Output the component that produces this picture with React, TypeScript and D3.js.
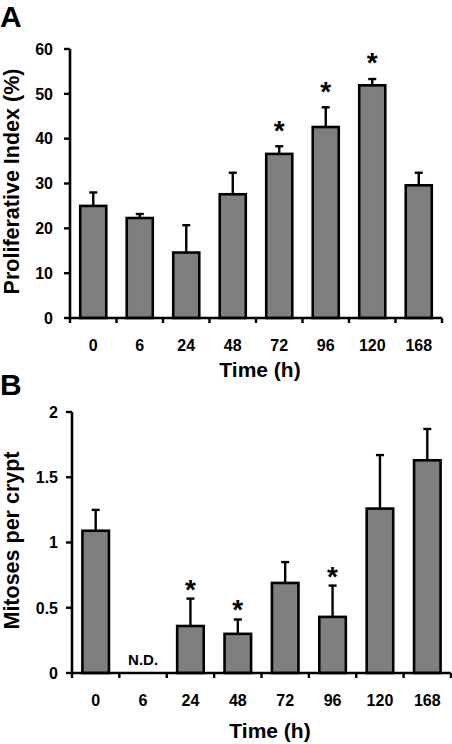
import React from 'react';
import * as d3 from 'd3';

const categories = ['0', '6', '24', '48', '72', '96', '120', '168'];
const proliferativeMean = [25.0, 22.3, 14.6, 27.6, 36.6, 42.6, 51.9, 29.6];
const proliferativeErr = [3.0, 0.9, 6.1, 4.8, 1.7, 4.4, 1.4, 2.8];
const proliferativeSig = [false, false, false, false, true, true, true, false];
const proliferativeTicks = [0, 10, 20, 30, 40, 50, 60];

const mitosesMean: (number | null)[] = [1.09, null, 0.36, 0.3, 0.69, 0.43, 1.26, 1.63];
const mitosesErr: (number | null)[] = [0.16, null, 0.21, 0.11, 0.16, 0.24, 0.41, 0.24];
const mitosesSig = [false, false, true, true, false, true, false, false];
const mitosesTicks = [0, 0.5, 1, 1.5, 2];

const FONT = "'Liberation Sans', Arial, sans-serif";
const BAR_FILL = '#7f7f7f';

type PanelProps = {
  letter: string;
  letterY: number;
  yTitle: string;
  yTitleX: number;
  xTitleX: number;
  xTitleY: number;
  x0: number;
  x1: number;
  yTop: number;
  yBottom: number;
  domainMax: number;
  ticks: number[];
  tickLabelGap: number;
  means: (number | null)[];
  errs: (number | null)[];
  sig: boolean[];
  starOffset: number;
  ndLabel?: boolean;
};

function Panel(p: PanelProps) {
  const x = d3.scaleBand<string>().domain(categories).range([p.x0, p.x1]).padding(0);
  const y = d3.scaleLinear().domain([0, p.domainMax]).range([p.yBottom, p.yTop]);
  const bw = x.bandwidth() * 0.56;
  const edges = categories.map((c) => x(c) as number).concat([p.x1]);
  const starSize = 28;
  return (
    <g fontFamily={FONT} fontWeight="bold" fill="#000">
      <text x={0} y={p.letterY} fontSize={30}>{p.letter}</text>
      <text
        transform={`translate(${p.yTitleX},${(p.yTop + p.yBottom) / 2 - 2}) rotate(-90)`}
        textAnchor="middle"
        fontSize={21.5}
      >
        {p.yTitle}
      </text>
      <text x={p.xTitleX} y={p.xTitleY} textAnchor="middle" fontSize={21}>Time (h)</text>
      {categories.map((c, i) => {
        const m = p.means[i];
        const e = p.errs[i];
        const cx = (x(c) as number) + x.bandwidth() / 2;
        if (m == null) return null;
        const capY = y(m + (e || 0));
        return (
          <g key={c}>
            {e != null && (
              <g stroke="#000" strokeWidth={2.4}>
                <line x1={cx} x2={cx} y1={y(m)} y2={capY} />
                <line x1={cx - 4} x2={cx + 4} y1={capY} y2={capY} />
              </g>
            )}
            <rect
              x={cx - bw / 2}
              y={y(m)}
              width={bw}
              height={y(0) - y(m)}
              fill={BAR_FILL}
              stroke="#000"
              strokeWidth={2.6}
            />
            {p.sig[i] && (
              <text
                x={cx}
                y={capY - p.starOffset + 0.57 * starSize}
                textAnchor="middle"
                fontSize={starSize}
              >
                *
              </text>
            )}
          </g>
        );
      })}
      {p.ndLabel && (
        <text
          x={(x('6') as number) + x.bandwidth() / 2}
          y={p.yBottom - 8}
          textAnchor="middle"
          fontSize={15}
        >
          N.D.
        </text>
      )}
      <line x1={p.x0} x2={p.x0} y1={p.yTop} y2={p.yBottom} stroke="#000" strokeWidth={2.6} />
      {p.ticks.map((t) => (
        <g key={t}>
          <line x1={p.x0 - 6} x2={p.x0} y1={y(t)} y2={y(t)} stroke="#000" strokeWidth={2.4} />
          <text x={p.x0 - p.tickLabelGap} y={y(t)} dy="0.36em" textAnchor="end" fontSize={16}>
            {String(t)}
          </text>
        </g>
      ))}
      <line x1={p.x0 - 1} x2={p.x1} y1={p.yBottom} y2={p.yBottom} stroke="#000" strokeWidth={2.6} />
      {edges.map((ex, i) => (
        <line key={i} x1={ex} x2={ex} y1={p.yBottom} y2={p.yBottom + 5} stroke="#000" strokeWidth={2.4} />
      ))}
      {categories.map((c) => (
        <text
          key={c}
          x={(x(c) as number) + x.bandwidth() / 2}
          y={p.yBottom + 33}
          textAnchor="middle"
          fontSize={16}
        >
          {c}
        </text>
      ))}
    </g>
  );
}

export default function App() {
  return (
    <svg
      width={452}
      height={744}
      style={{ position: 'absolute', left: 0, top: 0, background: '#fff' }}
    >
      <Panel
        letter="A"
        letterY={27}
        yTitle="Proliferative Index (%)"
        yTitleX={19}
        xTitleX={260}
        xTitleY={377}
        x0={70}
        x1={442}
        yTop={49}
        yBottom={318}
        domainMax={60}
        ticks={proliferativeTicks}
        tickLabelGap={17}
        means={proliferativeMean}
        errs={proliferativeErr}
        sig={proliferativeSig}
        starOffset={22.5}
      />
      <Panel
        letter="B"
        letterY={395}
        yTitle="Mitoses per crypt"
        yTitleX={19}
        xTitleX={270}
        xTitleY={738}
        x0={72}
        x1={451}
        yTop={412}
        yBottom={673}
        domainMax={2}
        ticks={mitosesTicks}
        tickLabelGap={14}
        means={mitosesMean}
        errs={mitosesErr}
        sig={mitosesSig}
        starOffset={16}
        ndLabel
      />
    </svg>
  );
}
